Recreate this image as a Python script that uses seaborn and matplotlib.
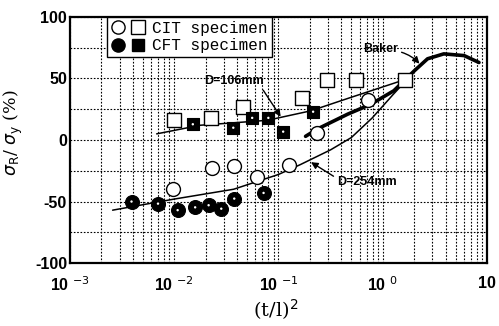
import numpy as np
import pandas as pd
import matplotlib
matplotlib.use("Agg")
import matplotlib.pyplot as plt
import seaborn as sns
from matplotlib.legend_handler import HandlerTuple
from matplotlib.lines import Line2D
from matplotlib.ticker import LogLocator, MultipleLocator, NullFormatter

# ---- data ----
cit_sq_x = [0.0100, 0.0227, 0.046, 0.169, 0.294, 0.55, 1.63]
cit_sq_y = [16, 18, 27, 34.5, 49, 49, 49]
cft_sq_x = [0.0151, 0.0369, 0.056, 0.080, 0.111, 0.215]
cft_sq_y = [12.8, 10, 18, 18, 6.8, 23]
cit_ci_x = [0.0097, 0.0231, 0.0377, 0.062, 0.125, 0.232, 0.72]
cit_ci_y = [-39.5, -22.6, -21, -30, -20.7, 6, 32.4]
cft_ci_x = [0.0039, 0.0070, 0.0108, 0.0159, 0.0214, 0.0283, 0.0377, 0.072]
cft_ci_y = [-50, -51.7, -57, -54.7, -53, -55.8, -47.6, -43]

d106_x = [0.0068, 0.0178, 0.078, 0.204, 0.49, 1.62]
d106_y = [5, 12, 16, 23.7, 34.5, 49]
baker_x = [0.182, 0.237, 0.461, 0.767, 1.276, 1.995, 2.69, 3.85, 6.03, 8.37]
baker_y = [3, 9, 21, 29, 40, 56, 66, 70, 68.6, 63]
d254_x = [0.00257, 0.010, 0.0372, 0.10, 0.162, 0.316, 0.50, 0.794, 1.259, 1.62]
d254_y = [-57, -48, -40, -28, -20, -8, 2, 18, 37, 47]

xticks = [1e-3, 1e-2, 1e-1, 1, 10]
xticklabels = ["10 $^{-3}$", "10 $^{-2}$", "10 $^{-1}$", "10 $^{0}$", "10"]
yticks = [-100, -50, 0, 50, 100]
yticklabels = ["-100", "-50", "0", "50", "100"]

sns.set_theme(style="white")
plt.rcParams['font.family'] = ['Liberation Sans', 'DejaVu Sans']
plt.rcParams['text.color'] = 'black'
plt.rcParams['axes.labelcolor'] = 'black'

fig = plt.figure(figsize=(4.99, 3.26), dpi=100)
ax = fig.add_axes([0.140, 0.193, 0.836, 0.755])

# curves
for xs, ys, lw in [(d106_x, d106_y, 1.1), (baker_x, baker_y, 2.6), (d254_x, d254_y, 1.1)]:
    df = pd.DataFrame({"x": xs, "y": ys})
    sns.lineplot(data=df, x="x", y="y", ax=ax, color="black", lw=lw,
                 sort=False, estimator=None, zorder=3)

ms = 100
sns.scatterplot(x=cit_sq_x, y=cit_sq_y, ax=ax, marker="s", s=ms, facecolor="white",
                edgecolor="black", linewidth=1.0, zorder=4)
sns.scatterplot(x=cft_sq_x, y=cft_sq_y, ax=ax, marker="s", s=72, color="black",
                edgecolor="black", linewidth=0.8, zorder=4)
sns.scatterplot(x=cit_ci_x, y=cit_ci_y, ax=ax, marker="o", s=ms, facecolor="white",
                edgecolor="black", linewidth=1.0, zorder=4)
sns.scatterplot(x=cft_ci_x, y=cft_ci_y, ax=ax, marker="o", s=ms, color="black",
                edgecolor="black", linewidth=0.8, zorder=4)
# tiny white specks in filled markers (scan look)
sns.scatterplot(x=cft_sq_x + cft_ci_x, y=cft_sq_y + cft_ci_y, ax=ax, marker="o", s=3,
                color="white", edgecolor="none", zorder=5)

ax.set_xscale("log")
ax.set_xlim(1e-3, 10)
ax.set_ylim(-100, 100)
ax.set_xticks(xticks)
ax.set_xticklabels(xticklabels)
ax.xaxis.set_minor_locator(LogLocator(base=10, subs=np.arange(2, 10)))
ax.xaxis.set_minor_formatter(NullFormatter())
ax.set_yticks(yticks)
ax.set_yticklabels(yticklabels)
ax.yaxis.set_minor_locator(MultipleLocator(25))
ax.tick_params(which="both", length=0)
ax.tick_params(axis="x", pad=9, labelsize=11.5)
ax.tick_params(axis="y", pad=2, labelsize=11.5)
for lab in ax.get_xticklabels() + ax.get_yticklabels():
    lab.set_fontweight("bold")
    lab.set_color("black")

ax.grid(which="both", color="black", linestyle=(0, (1.5, 1.5)), linewidth=0.8)
for sp in ax.spines.values():
    sp.set_color("black")
    sp.set_linewidth(1.6)
ax.set_xlabel("")
ax.set_ylabel(r"$\sigma$$_{\rm R}$/ $\sigma$$_{\rm y}$ (%)", fontsize=12.5, color="black",
              family=['DejaVu Serif'])
ax.yaxis.set_label_coords(-0.108, 0.53)

fig.text(0.553, 0.05, r"(t/l)$^2$", ha="center", va="center", fontsize=14,
         family=['DejaVu Serif'], color="black")

# annotations
akw = dict(arrowstyle="-|>", color="black", lw=1.0, mutation_scale=10)
ax.annotate("D=106mm", xy=(0.105, 19), xytext=(0.0377, 48), fontsize=9,
            fontweight="bold", ha="center", va="center", color="black",
            arrowprops=dict(**akw, shrinkA=0, shrinkB=0, relpos=(0.95, 0.0)), zorder=6)
ax.annotate("Baker", xy=(2.25, 62), xytext=(0.96, 74), fontsize=9,
            fontweight="bold", ha="center", va="center", color="black",
            arrowprops=dict(**akw, shrinkA=0, shrinkB=0, relpos=(1.0, 0.3),
                            connectionstyle="arc3,rad=-0.15"), zorder=6)
ax.annotate("D=254mm", xy=(0.205, -18), xytext=(0.70, -34), fontsize=9,
            fontweight="bold", ha="center", va="center", color="black",
            arrowprops=dict(**akw, shrinkA=0, shrinkB=0, relpos=(0.0, 0.8)), zorder=6)

# legend
h_o = Line2D([], [], marker="o", ls="none", mfc="white", mec="black", ms=9.5, mew=1.0)
h_s = Line2D([], [], marker="s", ls="none", mfc="white", mec="black", ms=9.5, mew=1.0)
h_fo = Line2D([], [], marker="o", ls="none", mfc="black", mec="black", ms=9.5)
h_fs = Line2D([], [], marker="s", ls="none", mfc="black", mec="black", ms=8.5)
leg = ax.legend([(h_o, h_s), (h_fo, h_fs)], ["CIT specimen", "CFT specimen"],
                handler_map={tuple: HandlerTuple(ndivide=None, pad=0.3)},
                loc="upper left", bbox_to_anchor=(0.088, 1.0), frameon=True,
                fancybox=False, shadow=False, framealpha=1, edgecolor="black",
                borderpad=0.25, labelspacing=0.15, handlelength=2.2, handletextpad=0.4,
                borderaxespad=0.0, prop={"family": ["Liberation Mono", "DejaVu Sans Mono"], "size": 11.5})
leg.get_frame().set_linewidth(1.0)
for t in leg.get_texts():
    t.set_color("black")
leg.set_zorder(7)

fig.savefig("out.png", dpi=100)
